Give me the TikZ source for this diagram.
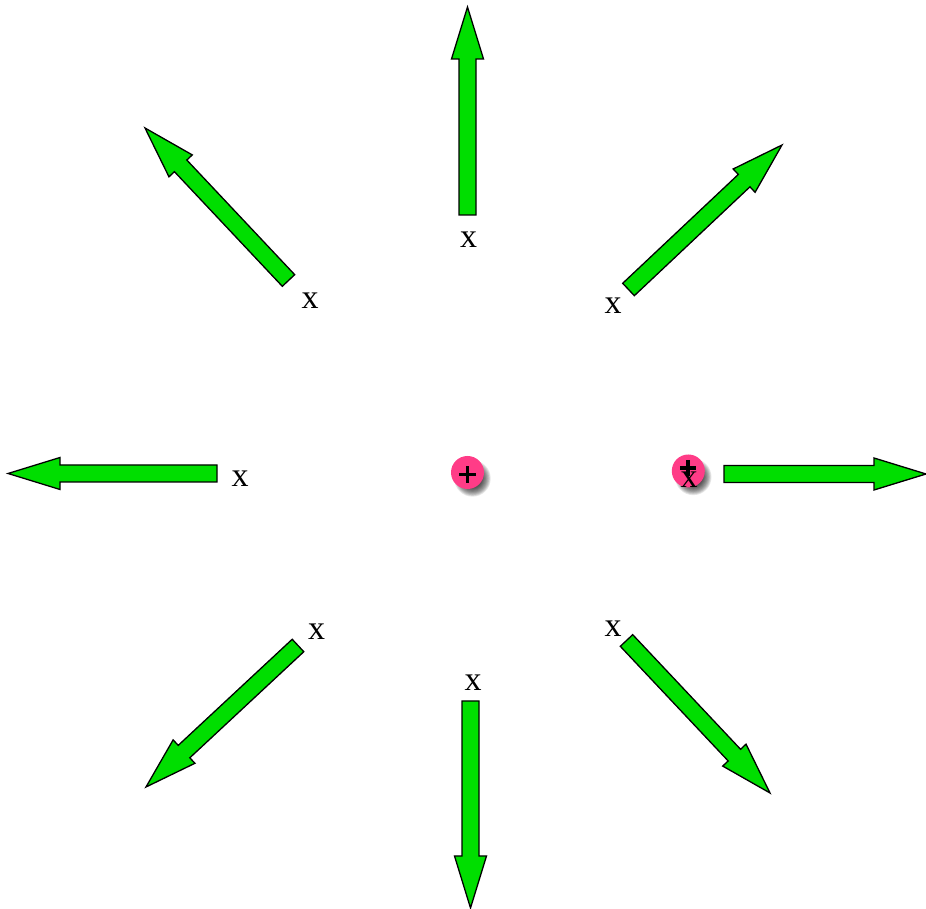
\documentclass[tikz,border=0pt]{standalone}
\usepackage{fontspec}
\setmainfont{Liberation Serif}
\definecolor{arrowgreen}{RGB}{0,222,0}
\definecolor{chargepink}{RGB}{255,60,135}
\tikzset{
  fieldarrow/.style={draw=black, fill=arrowgreen, line width=1.3pt, line join=miter},
  fatarrow/.pic={\path[fieldarrow] (0,-8.5) -- (#1-52,-8.5) -- (#1-52,-16) -- (#1,0)
      -- (#1-52,16) -- (#1-52,8.5) -- (0,8.5) -- cycle;},
  xlabel/.style={inner sep=0pt, font=\fontsize{34}{38}\selectfont},
  charge/.style={circle, fill=chargepink, minimum size=33pt, inner sep=0pt},
  plussign/.style={line width=3.8pt},
}
\newcommand\chargeshadow[1]{%
  \foreach \k in {1,...,12}{%
    \fill[black, opacity=0.09] ($(#1)+(5,-6)$) circle ({19-0.8*\k});
  }%
}
\usetikzlibrary{calc}
\begin{document}
\begin{tikzpicture}[x=1pt,y=1pt]
\useasboundingbox (0,0) rectangle (926,909);
% tails
\coordinate (tup) at (467.5,694);
\coordinate (tdown) at (470.5,208);
\coordinate (tleft) at (217,435.5);
\coordinate (tright) at (724,435);
\coordinate (tul) at (288.5,628.5);
\coordinate (tur) at (628.5,619.5);
\coordinate (tll) at (298,263.5);
\coordinate (tlr) at (626.5,268.5);
% arrows
\pic (aup) [rotate=90] at (tup) {fatarrow=208};
\pic (adown) [rotate=-90] at (tdown) {fatarrow=207};
\pic (aleft) [rotate=180] at (tleft) {fatarrow=209};
\pic (aright) at (tright) {fatarrow=202};
\pic (aul) [rotate=133.26] at (tul) {fatarrow=209.4};
\pic (aur) [rotate=43.27] at (tur) {fatarrow=210.8};
\pic (all) [rotate=-137.05] at (tll) {fatarrow=207.7};
\pic (alr) [rotate=-46.74] at (tlr) {fatarrow=209.4};
% labels
\node[xlabel] (lup) at (468.5,669) {x};
\node[xlabel] (lul) at (310,608) {x};
\node[xlabel] (lur) at (613,603) {x};
\node[xlabel] (lleft) at (240,430) {x};
\node[xlabel] (lll) at (316.5,277) {x};
\node[xlabel] (llr) at (613,280.5) {x};
\node[xlabel] (ldown) at (473,226.5) {x};
% charges
\coordinate (cl) at (467.5,436.5);
\coordinate (cr) at (688.3,438);
\chargeshadow{cl}
\chargeshadow{cr}
\node[charge] (qleft) at (cl) {};
\node[charge] (qright) at (cr) {};
\draw[plussign] ($(qleft.center)+(-8.5,-2)$) -- ($(qleft.center)+(8.5,-2)$);
\draw[plussign] ($(qleft.center)+(0,-10.5)$) -- ($(qleft.center)+(0,6.5)$);
\draw[plussign] ($(qright.center)+(-8,3)$) -- ($(qright.center)+(8,3)$);
\draw[plussign] ($(qright.center)+(0,-5)$) -- ($(qright.center)+(0,11)$);
\node[xlabel] (lright) at (689,429) {x};
\end{tikzpicture}
\end{document}
